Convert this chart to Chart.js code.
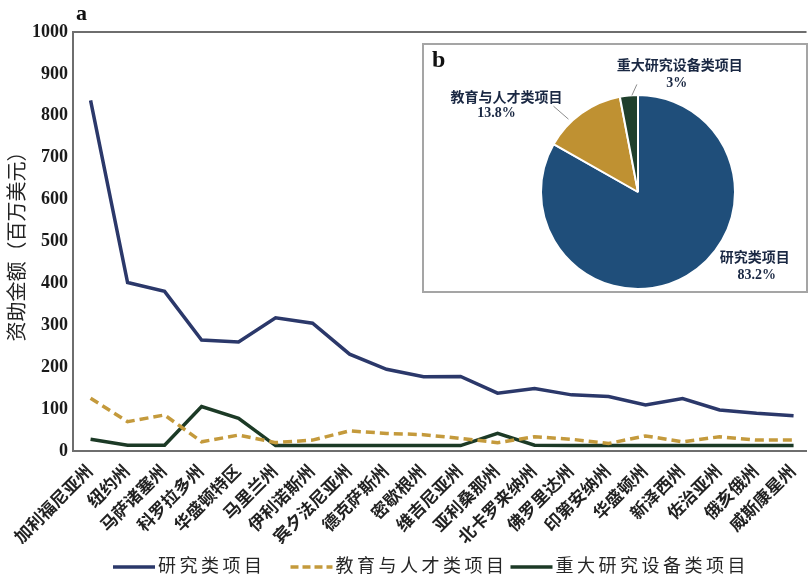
<!DOCTYPE html>
<html>
<head>
<meta charset="utf-8">
<title>资助金额</title>
<script src="https://cdn.jsdelivr.net/npm/chart.js@4/dist/chart.umd.min.js"></script>
<style>
  html, body { margin: 0; padding: 0; background: #fff; }
  #wrap { position: relative; width: 811px; height: 582px; overflow: hidden; }
  #lineChart { position: absolute; left: 0; top: 0; }
  #pieBox {
    position: absolute; left: 422px; top: 43px;
    width: 382px; height: 246px;
    border: 2px solid #a5a5a5; background: #fff;
  }
  #pieChart { display: block; }
</style>
</head>
<body>
<div id="wrap">
  <canvas id="lineChart" width="811" height="582"></canvas>
  <div id="pieBox"><canvas id="pieChart" width="382" height="246"></canvas></div>
</div>
<script>
// states, sorted by research funding
const states = ['加利福尼亚州', '纽约州', '马萨诸塞州', '科罗拉多州', '华盛顿特区', '马里兰州',
  '伊利诺斯州', '宾夕法尼亚州', '德克萨斯州', '密歇根州', '维吉尼亚州', '亚利桑那州',
  '北卡罗来纳州', '佛罗里达州', '印第安纳州', '华盛顿州', '新泽西州', '佐治亚州', '俄亥俄州', '威斯康星州'];

const seriesNames = ['研究类项目', '教育与人才类项目', '重大研究设备类项目'];

// funding, million USD
const researchVals = [837, 402, 381, 265, 260, 318, 305, 231, 195, 177, 178, 138, 149, 134, 130, 110, 125, 98, 90, 84];
const educationVals = [126, 70, 86, 22, 38, 20, 26, 48, 42, 39, 30, 20, 34, 28, 18, 36, 22, 34, 26, 26];
const facilityVals = [28, 14, 14, 106, 78, 13, 13, 13, 13, 13, 13, 42, 14, 13, 13, 13, 13, 13, 13, 13];

// overall share, %
const pieShares = [83.2, 13.8, 3];

const yTicks = [0, 100, 200, 300, 400, 500, 600, 700, 800, 900, 1000];

const FONT = '"Liberation Serif", "Noto Sans CJK SC", serif';
const AXIS_GRAY = '#6e6e6e';
const lineColors = ['#2b386a', '#c49a3c', '#1c3a26'];
const pieColors = ['#1f4e7a', '#bf9132', '#1f3f2c'];

const toPoints = vals => vals.map((v, i) => ({ x: i, y: v }));

// panel letter and a hand-drawn legend row under the axis labels
const legendGaps = [25, 3];
const panelA = {
  id: 'panelA',
  afterDraw(chart) {
    const ctx = chart.ctx;
    ctx.save();
    ctx.font = 'bold 22px ' + FONT;
    ctx.fillStyle = '#111';
    ctx.textAlign = 'left';
    ctx.textBaseline = 'middle';
    ctx.fillText('a', 76, 14);

    ctx.font = '18px ' + FONT;
    ctx.letterSpacing = '3.5px';
    let x = 113;
    const y = 567;
    chart.data.datasets.forEach((ds, i) => {
      ctx.strokeStyle = ds.borderColor;
      ctx.lineWidth = 3.5;
      ctx.setLineDash(ds.borderDash ? [8, 4] : []);
      ctx.beginPath();
      ctx.moveTo(x, y);
      ctx.lineTo(x + 42, y);
      ctx.stroke();
      ctx.setLineDash([]);
      x += 45;
      ctx.fillStyle = '#262626';
      ctx.fillText(ds.label, x, y);
      x += ctx.measureText(ds.label).width + (legendGaps[i] || 0);
    });
    ctx.restore();
  }
};

new Chart(document.getElementById('lineChart'), {
  type: 'line',
  data: {
    datasets: [
      { label: seriesNames[0], data: toPoints(researchVals), borderColor: lineColors[0], backgroundColor: lineColors[0],
        borderWidth: 3.5, pointRadius: 0, tension: 0 },
      { label: seriesNames[1], data: toPoints(educationVals), borderColor: lineColors[1], backgroundColor: lineColors[1],
        borderWidth: 3.5, borderDash: [9, 5], pointRadius: 0, tension: 0 },
      { label: seriesNames[2], data: toPoints(facilityVals), borderColor: lineColors[2], backgroundColor: lineColors[2],
        borderWidth: 3.5, pointRadius: 0, tension: 0 }
    ]
  },
  options: {
    responsive: false,
    animation: false,
    layout: { padding: { top: 32, left: 0, right: 0, bottom: 38 } },
    plugins: {
      tooltip: { enabled: false },
      legend: { display: false }
    },
    scales: {
      x: {
        type: 'linear',
        min: -0.475,
        max: 19.35,
        afterBuildTicks: s => { s.ticks = states.map((_, i) => ({ value: i })); },
        afterFit: s => { s.height = 93; },
        grid: { display: false },
        border: { color: AXIS_GRAY, width: 2 },
        ticks: {
          autoSkip: false,
          minRotation: 45,
          maxRotation: 45,
          padding: 3,
          color: '#222',
          font: { family: FONT, size: 17, weight: 'bold' },
          callback: v => states[v]
        }
      },
      y: {
        min: 0,
        max: 1000,
        afterBuildTicks: s => { s.ticks = yTicks.map(v => ({ value: v })); },
        afterFit: s => { s.width = 73; },
        border: { color: AXIS_GRAY, width: 2 },
        grid: {
          drawTicks: false,
          lineWidth: 2,
          color: c => (c.tick && c.tick.value === 1000 ? AXIS_GRAY : 'transparent')
        },
        ticks: {
          padding: 5,
          color: '#1a1a1a',
          font: { family: FONT, size: 18, weight: 'bold' },
          callback: v => String(v)
        },
        title: {
          display: true,
          text: '资助金额（百万美元）',
          color: '#222',
          font: { family: FONT, size: 20 },
          padding: { top: 7, bottom: 0 }
        }
      }
    }
  },
  plugins: [panelA]
});

// label offsets from each slice's outer mid point: name, percent, leader line
const pieLabelLayout = [
  { name: [68, -17], pct: [70, 0], leader: null },
  { name: [-75, -15], pct: [-85, 0], leader: [-13, 6, -28, -7] },
  { name: [51, -29], pct: [48, -12], leader: [3, 0, 8, -11] }
];

const pieLabels = {
  id: 'pieLabels',
  afterDraw(chart) {
    const ctx = chart.ctx;
    const arcs = chart.getDatasetMeta(0).data;
    ctx.save();
    ctx.textAlign = 'center';
    ctx.textBaseline = 'middle';
    arcs.forEach((arc, i) => {
      const mid = (arc.startAngle + arc.endAngle) / 2;
      const ax = arc.x + Math.cos(mid) * arc.outerRadius;
      const ay = arc.y + Math.sin(mid) * arc.outerRadius;
      const lay = pieLabelLayout[i];
      if (lay.leader) {
        ctx.strokeStyle = '#8c8c8c';
        ctx.lineWidth = 1;
        ctx.beginPath();
        ctx.moveTo(ax + lay.leader[0], ay + lay.leader[1]);
        ctx.lineTo(ax + lay.leader[2], ay + lay.leader[3]);
        ctx.stroke();
      }
      ctx.fillStyle = '#1a2843';
      ctx.font = 'bold 14px ' + FONT;
      ctx.fillText(seriesNames[i], ax + lay.name[0], ay + lay.name[1]);
      ctx.fillText(pieShares[i] + '%', ax + lay.pct[0], ay + lay.pct[1]);
    });
    ctx.fillStyle = '#111';
    ctx.textAlign = 'left';
    ctx.font = 'bold 24px ' + FONT;
    ctx.fillText('b', 8, 16);
    ctx.restore();
  }
};

new Chart(document.getElementById('pieChart'), {
  type: 'pie',
  data: {
    labels: seriesNames,
    datasets: [{
      data: pieShares,
      backgroundColor: pieColors,
      borderColor: '#fff',
      borderWidth: 2
    }]
  },
  options: {
    responsive: false,
    animation: false,
    layout: { padding: { left: 116, right: 70, top: 49, bottom: 1 } },
    plugins: {
      legend: { display: false },
      tooltip: { enabled: false }
    }
  },
  plugins: [pieLabels]
});
</script>
</body>
</html>
